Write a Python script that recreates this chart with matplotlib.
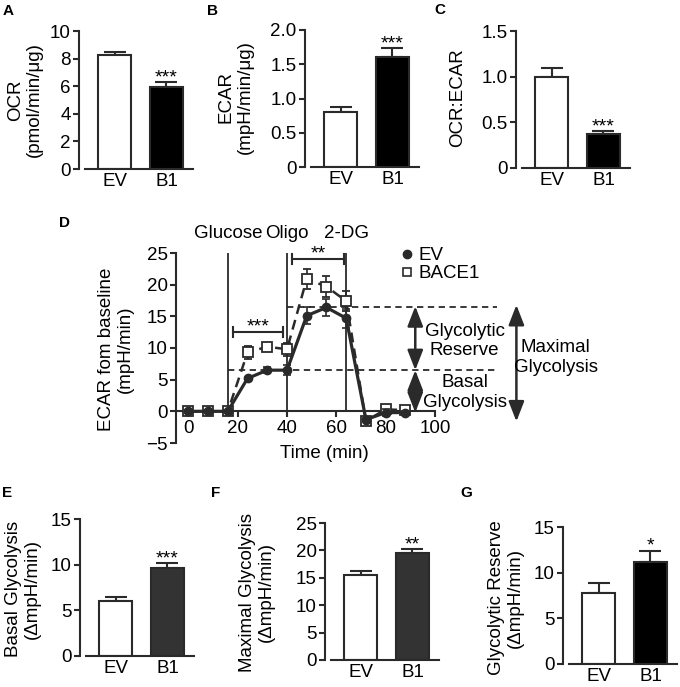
import numpy as np
import matplotlib
matplotlib.use('Agg')
import matplotlib.pyplot as plt
from matplotlib.lines import Line2D

# bar panels (mean, sem) for EV and BACE1 (B1)
groups = ['EV', 'B1']
ocr = [8.25, 5.93]
ocr_err = [0.24, 0.38]
ecar = [0.80, 1.61]
ecar_err = [0.07, 0.12]
ratio = [1.00, 0.37]
ratio_err = [0.09, 0.035]
basal = [6.05, 9.67]
basal_err = [0.37, 0.47]
maximal = [15.5, 19.5]
maximal_err = [0.8, 0.75]
reserve = [7.75, 11.2]
reserve_err = [1.15, 1.2]

# panel D time course
time = [0, 8, 16, 24, 32, 40, 48, 56, 64, 72, 80, 88]
ev_mean = [0, 0, 0, 5.2, 6.5, 6.5, 15.1, 16.4, 14.7, -1.3, -0.2, -0.2]
ev_sem = [0.2, 0.2, 0.2, 0.3, 0.5, 0.8, 1.3, 1.3, 1.5, 0.3, 0.6, 0.3]
bace_mean = [0, 0, 0, 9.3, 10.2, 9.8, 20.9, 19.7, 17.4, -1.5, 0.3, 0.2]
bace_sem = [0.2, 0.2, 0.2, 1.0, 0.5, 1.0, 1.6, 1.6, 1.6, 0.3, 0.4, 0.3]
inject_t = [16, 40, 64]
inject_lab = ['Glucose', 'Oligo', '2-DG']

plt.rcParams['font.family'] = ['Liberation Sans', 'DejaVu Sans']
plt.rcParams['font.size'] = 13.5

DARK = '#2a2a2a'
W, H = 680, 687
fig = plt.figure(figsize=(6.8, 6.87), dpi=100)


def px_axes(left, top, right, bottom):
    return fig.add_axes([left / W, 1 - bottom / H, (right - left) / W, (bottom - top) / H])


def ftext(x, y, s, **kw):
    fig.text(x / W, 1 - y / H, s, **kw)


def style_spines(ax):
    for s in ['top', 'right']:
        ax.spines[s].set_visible(False)
    for s in ['left', 'bottom']:
        ax.spines[s].set_linewidth(1.5)
        ax.spines[s].set_color(DARK)


def bar_panel(left, y0, ytop, vals, errs, fill, ymax, ticks, ticklabs, star):
    ax = px_axes(left, ytop, left + 114, y0)
    x = np.arange(len(groups))
    ax.bar(x, vals, width=0.635, color=['white', fill], edgecolor=DARK,
           linewidth=1.5, zorder=2)
    ax.errorbar(x, vals, yerr=[np.zeros(len(vals)), errs], fmt='none',
                ecolor=DARK, elinewidth=1.5, capsize=8, capthick=1.5, zorder=1)
    ax.set_xlim(-0.683, 1.51)
    ax.set_ylim(0, ymax)
    style_spines(ax)
    ax.spines['bottom'].set_bounds(-0.567, 1.51)
    ax.set_yticks(ticks, ticklabs)
    ax.set_xticks(x, groups)
    ax.tick_params(axis='x', length=0, pad=3)
    ax.tick_params(axis='y', length=4, width=1.5, pad=2, color=DARK)
    ax.annotate(star, (1, vals[1] + errs[1]), xytext=(0, -3),
                textcoords='offset points', ha='center', va='bottom',
                fontsize=14, annotation_clip=False)
    return ax


bar_panel(79, 169, 31, ocr, ocr_err, 'black', 10,
          [0, 2, 4, 6, 8, 10], ['0', '2', '4', '6', '8', '10'], '***')
bar_panel(305, 167, 30, ecar, ecar_err, 'black', 2.0,
          [0, 0.5, 1.0, 1.5, 2.0], ['0', '0.5', '1.0', '1.5', '2.0'], '***')
bar_panel(516, 168, 31, ratio, ratio_err, 'black', 1.5,
          [0, 0.5, 1.0, 1.5], ['0', '0.5', '1.0', '1.5'], '***')
bar_panel(80, 656, 519, basal, basal_err, '#333333', 15,
          [0, 5, 10, 15], ['0', '5', '10', '15'], '***')
bar_panel(325, 660, 523, maximal, maximal_err, '#333333', 25,
          [0, 5, 10, 15, 20, 25], ['0', '5', '10', '15', '20', '25'], '**')
bar_panel(563, 664, 527, reserve, reserve_err, 'black', 15,
          [0, 5, 10, 15], ['0', '5', '10', '15'], '*')

# y labels of bar panels
lab_kw = dict(rotation=90, ha='center', va='center', multialignment='center',
              linespacing=1.2)
ftext(25, 100, 'OCR\n(pmol/min/μg)', **lab_kw)
ftext(236, 97, 'ECAR\n(mpH/min/μg)', **lab_kw)
ftext(458, 98, 'OCR:ECAR', **lab_kw)
ftext(23, 589, 'Basal Glycolysis\n(ΔmpH/min)', **lab_kw)
ftext(257, 592, 'Maximal Glycolysis\n(ΔmpH/min)', **lab_kw)
ftext(506, 598, 'Glycolytic Reserve\n(ΔmpH/min)', **lab_kw)

# panel D
ax = px_axes(176, 253, 435, 443)
ax.set_xlim(-5, 100)
ax.set_ylim(-5, 25)
style_spines(ax)
ax.spines['bottom'].set_position(('data', 0))
ax.set_xticks([0, 20, 40, 60, 80, 100])
ax.set_yticks([-5, 0, 5, 10, 15, 20, 25])
ax.tick_params(length=4, width=1.5, pad=2, color=DARK)

ax.vlines(inject_t, 0, 25, color=DARK, lw=1.3, zorder=1)
for t, lab in zip(inject_t, inject_lab):
    ax.text(t, 28, lab, ha='center', va='center')

eb = ax.errorbar(time, bace_mean, yerr=bace_sem, fmt='--s', color=DARK,
                 mfc='white', mec=DARK, mew=1.3, ms=6.5, lw=1.8, capsize=3,
                 elinewidth=1.2, capthick=1.2, zorder=3, clip_on=False)
eb[0].set_dashes([4, 2.5])
ax.errorbar(time, ev_mean, yerr=ev_sem, fmt='-o', color=DARK, ms=6, lw=2.3,
            capsize=3, elinewidth=1.2, capthick=1.2, zorder=4, clip_on=False)

# reference levels
basal_lvl = ev_mean[5]
max_lvl = max(ev_mean)
ax.hlines(max_lvl, 40, 125, colors=DARK, lw=1.3, linestyles=(0, (3.5, 2.5)),
          clip_on=False)
ax.hlines(basal_lvl, 16, 125, colors=DARK, lw=1.3, linestyles=(0, (3.5, 2.5)),
          clip_on=False)

arrow = dict(arrowstyle='<|-|>,head_length=0.9,head_width=0.35', color=DARK,
             lw=1.8, shrinkA=0, shrinkB=0)
ax.annotate('', (92, max_lvl + 0.2), (92, basal_lvl), arrowprops=arrow,
            annotation_clip=False)
ax.annotate('', (92, basal_lvl), (92, -0.2), arrowprops=arrow,
            annotation_clip=False)
ax.annotate('', (133, max_lvl + 0.4), (133, -1.6), arrowprops=arrow,
            annotation_clip=False)
ax.text(112, 11.1, 'Glycolytic\nReserve', ha='center', va='center',
        linespacing=1.2)
ax.text(112, 3.0, 'Basal\nGlycolysis', ha='center', va='center',
        linespacing=1.2)
ax.text(149, 8.5, 'Maximal\nGlycolysis', ha='center', va='center',
        linespacing=1.2)


def bracket(x1, x2, y, txt):
    ax.plot([x1, x2], [y, y], color=DARK, lw=1.5, clip_on=False)
    ax.plot([x1, x1], [y - 0.8, y + 0.8], color=DARK, lw=1.5, clip_on=False)
    ax.plot([x2, x2], [y - 0.8, y + 0.8], color=DARK, lw=1.5, clip_on=False)
    ax.annotate(txt, ((x1 + x2) / 2, y), xytext=(0, -2.5), textcoords='offset points',
                ha='center', va='bottom', fontsize=14, annotation_clip=False)


bracket(18, 38.4, 12.5, '***')
bracket(42, 63, 24.1, '**')

handles = [Line2D([], [], marker='o', ls='none', color=DARK, ms=6),
           Line2D([], [], marker='s', ls='none', mfc='white', mec=DARK, mew=1.2, ms=6)]
ax.legend(handles, ['EV', 'BACE1'], loc='upper left', bbox_to_anchor=(0.87, 1.03),
          frameon=False, handlelength=0.6, handletextpad=0.3, borderaxespad=0,
          labelspacing=0.05, borderpad=0)

ftext(116, 349, 'ECAR fom baseline\n(mpH/min)', **lab_kw)
ftext(324, 453, 'Time (min)', ha='center', va='center')

# panel letters
for lx, ly, s in [(8, 11, 'A'), (213, 11, 'B'), (440, 10, 'C'), (65, 223, 'D'),
                  (7, 493, 'E'), (216, 493, 'F'), (466, 493, 'G')]:
    ftext(lx, ly, s, ha='center', va='center', fontsize=11, fontweight='bold')

fig.savefig('out.png', dpi=100)
